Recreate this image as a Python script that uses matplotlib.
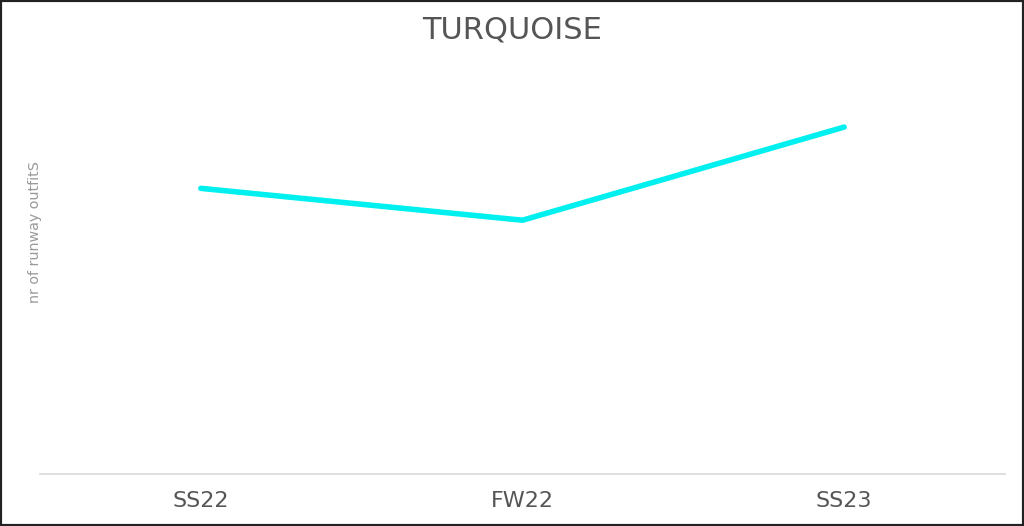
import matplotlib
matplotlib.use("Agg")
import matplotlib.pyplot as plt
from matplotlib.patches import Rectangle

seasons = ["SS22", "FW22", "SS23"]
outfits = [69, 61.3, 83.8]

plt.rcParams["font.family"] = ["DejaVu Sans"]

fig = plt.figure(figsize=(10.24, 5.26), dpi=100)
ax = fig.add_axes([40/1024, 52/526, 965/1024, 414/526])

ax.plot(range(len(seasons)), outfits, color="#00F0F0", lw=4, solid_capstyle="round")

ax.set_xlim(-0.5, len(seasons) - 0.5)
ax.set_ylim(0, 100)
ax.set_xticks(range(len(seasons)))
ax.set_xticklabels(seasons, fontsize=16, color="#555555")
ax.tick_params(axis="x", length=0, pad=12)
ax.set_yticks([])
for s in ["top", "right", "left"]:
    ax.spines[s].set_visible(False)
ax.spines["bottom"].set_color("#d9d9d9")
ax.spines["bottom"].set_linewidth(1.2)

fig.text(35/1024, 1 - 232/526, "nr of runway outfitS", rotation=90, fontsize=10.3,
         color="#999999", ha="center", va="center")
fig.text(0.5, 1 - 30/526, "TURQUOISE", fontsize=22, color="#555555", ha="center", va="center")

fig.patches.append(Rectangle((0, 0), 1, 1, transform=fig.transFigure, fill=False,
                             edgecolor="#222222", lw=3))

fig.savefig("out.png", dpi=100)
